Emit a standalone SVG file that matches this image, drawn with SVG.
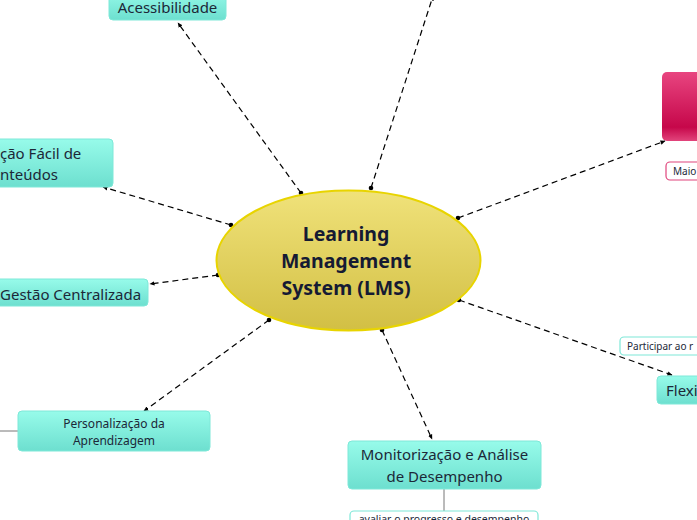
<svg xmlns="http://www.w3.org/2000/svg" width="697" height="520" viewBox="0 0 697 520">
<defs>
<linearGradient id="teal" x1="0" y1="0" x2="0" y2="1">
<stop offset="0" stop-color="#97fbea"/><stop offset="1" stop-color="#6ddfcf"/>
</linearGradient>
<linearGradient id="yel" x1="0" y1="0" x2="0" y2="1">
<stop offset="0" stop-color="#f0e27a"/><stop offset="1" stop-color="#d2bf44"/>
</linearGradient>
<linearGradient id="pink" x1="0" y1="0" x2="0" y2="1">
<stop offset="0" stop-color="#e84580"/><stop offset="0.8" stop-color="#c6074a"/><stop offset="1" stop-color="#e2457c"/>
</linearGradient>
<marker id="dot" markerWidth="6" markerHeight="6" refX="3" refY="3" markerUnits="userSpaceOnUse">
<circle cx="3" cy="3" r="2.3" fill="#000"/>
</marker>
<marker id="arr" markerWidth="6" markerHeight="6" refX="4.5" refY="3" orient="auto" markerUnits="userSpaceOnUse">
<path d="M0,0.8 L5,3 L0,5.2 Z" fill="#000"/>
</marker>
<style>
.box{fill:url(#teal);stroke:#7ee8d8;stroke-width:1}
.t{font-family:"Noto Sans","Open Sans",sans-serif;fill:#1c2838}
.c{stroke:#000;stroke-width:1.2;stroke-dasharray:6,4;fill:none;marker-start:url(#dot);marker-end:url(#arr)}
.s{stroke:#777;stroke-width:1;fill:none}
.lbl{fill:#fff;stroke-width:1.2}
</style>
</defs>
<g id="connectors">
<line class="c" x1="301" y1="193" x2="178" y2="23"/>
<line class="c" x1="371" y1="188" x2="433" y2="-4"/>
<line class="c" x1="231" y1="225" x2="103" y2="187"/>
<line class="c" x1="218" y1="275" x2="150" y2="284"/>
<line class="c" x1="269" y1="320" x2="144" y2="411"/>
<line class="c" x1="382" y1="330" x2="432" y2="439"/>
<line class="c" x1="459" y1="300" x2="672" y2="375"/>
<line class="c" x1="458" y1="218" x2="665" y2="141"/>
<line class="s" x1="444" y1="489" x2="444" y2="511"/>
<line class="s" x1="0" y1="431" x2="18" y2="431"/>
</g>
<g id="central">
<ellipse cx="348.5" cy="260.5" rx="132" ry="70" fill="url(#yel)" stroke="#e8d400" stroke-width="2"/>
<text x="346" y="241" text-anchor="middle" font-size="19.5" font-weight="bold" font-family="'Noto Sans','Open Sans',sans-serif" fill="#151a33">Learning</text>
<text x="346" y="268" text-anchor="middle" font-size="19.5" font-weight="bold" font-family="'Noto Sans','Open Sans',sans-serif" fill="#151a33">Management</text>
<text x="346" y="295" text-anchor="middle" font-size="19.5" font-weight="bold" font-family="'Noto Sans','Open Sans',sans-serif" fill="#151a33">System (LMS)</text>
</g>
<g id="acessibilidade">
<rect class="box" x="109" y="-10" width="117" height="30" rx="4"/>
<text class="t" x="167.5" y="13" text-anchor="middle" font-size="15">Acessibilidade</text>
</g>
<g id="navegacao">
<rect class="box" x="-10" y="139" width="123" height="48" rx="4"/>
<text class="t" x="0" y="159" font-size="15">ção Fácil de</text>
<text class="t" x="0" y="180" font-size="15">nteúdos</text>
</g>
<g id="gestao">
<rect class="box" x="-10" y="279" width="158" height="27" rx="4"/>
<text class="t" x="0" y="300" font-size="15">Gestão Centralizada</text>
</g>
<g id="personalizacao">
<rect class="box" x="18" y="411" width="192" height="40" rx="4"/>
<text class="t" x="114" y="428" text-anchor="middle" font-size="12">Personalização da</text>
<text class="t" x="114" y="445" text-anchor="middle" font-size="12">Aprendizagem</text>
</g>
<g id="monitorizacao">
<rect class="box" x="348" y="441" width="193" height="48" rx="4"/>
<text class="t" x="444.5" y="460" text-anchor="middle" font-size="15">Monitorização e Análise</text>
<text class="t" x="444.5" y="482" text-anchor="middle" font-size="15">de Desempenho</text>
</g>
<g id="avaliar">
<rect class="lbl" x="350" y="511" width="188" height="20" rx="4" stroke="#7ee8d8"/>
<text class="t" x="444" y="523" text-anchor="middle" font-size="10.5">avaliar o progresso e desempenho</text>
</g>
<g id="flexibilidade">
<rect class="box" x="657" y="376" width="50" height="28" rx="4"/>
<text class="t" x="666" y="396" font-size="15">Flexi</text>
</g>
<g id="participar">
<rect class="lbl" x="620" y="337" width="90" height="18" rx="4" stroke="#7ee8d8"/>
<text class="t" x="627" y="350" font-size="10">Participar ao r</text>
</g>
<g id="pinknode">
<rect x="662" y="72" width="50" height="69" rx="5" fill="url(#pink)"/>
</g>
<g id="maio">
<rect class="lbl" x="666" y="162" width="45" height="18" rx="4" stroke="#e0457c"/>
<text class="t" x="673" y="175" font-size="10">Maio</text>
</g>
</svg>
